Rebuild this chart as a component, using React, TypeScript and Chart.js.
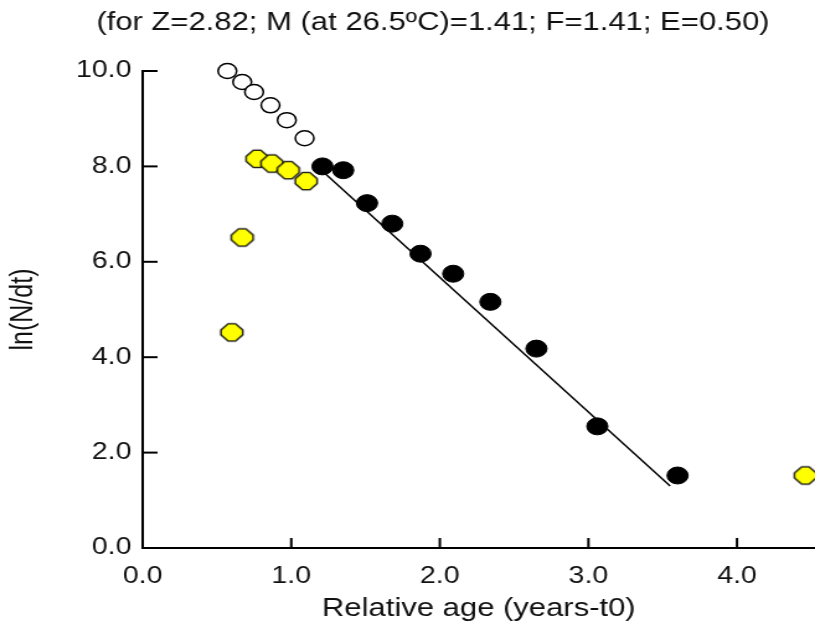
import React, { useEffect, useRef } from "react";
import { Chart, registerables } from "chart.js";

Chart.register(...registerables);

// ---- data ----
const titleText = "(for Z=2.82; M (at 26.5ºC)=1.41; F=1.41; E=0.50)";
const xTitle = "Relative age (years-t0)";
const yTitle = "ln(N/dt)";

const openAges = [0.57, 0.67, 0.75, 0.86, 0.97, 1.09];
const openLn = [10.0, 9.77, 9.56, 9.28, 8.97, 8.59];

const yellowAges = [0.6, 0.67, 0.77, 0.87, 0.98, 1.1, 4.46];
const yellowLn = [4.52, 6.51, 8.16, 8.06, 7.92, 7.69, 1.52];

const blackAges = [1.21, 1.35, 1.51, 1.68, 1.87, 2.09, 2.34, 2.65, 3.06, 3.6];
const blackLn = [8.0, 7.92, 7.23, 6.8, 6.17, 5.75, 5.16, 4.18, 2.55, 1.52];

const lineAges = [1.22, 3.55];
const lineLn = [7.87, 1.3];

const xMin = 0;
const xMax = 4.525;
const yMin = 0;
const yMax = 10;

// ---- layout (internal canvas is stretched horizontally by CSS) ----
const W = 657;
const H = 627;
const FONT = "'Liberation Sans', Arial, sans-serif";
const TEXT = "#111";

const toPts = (xs: number[], ys: number[]) => xs.map((x, i) => ({ x, y: ys[i] }));

function makeOctagon(): HTMLCanvasElement {
  const c = document.createElement("canvas");
  c.width = 22;
  c.height = 22;
  const g = c.getContext("2d")!;
  const cx = 11, cy = 11, hw = 8.8, hh = 8.6, a = 3, b = 2.5;
  g.beginPath();
  g.moveTo(cx - a, cy - hh);
  g.lineTo(cx + a, cy - hh);
  g.lineTo(cx + hw, cy - b);
  g.lineTo(cx + hw, cy + b);
  g.lineTo(cx + a, cy + hh);
  g.lineTo(cx - a, cy + hh);
  g.lineTo(cx - hw, cy + b);
  g.lineTo(cx - hw, cy - b);
  g.closePath();
  g.fillStyle = "#ffff00";
  g.fill();
  g.lineWidth = 1.3;
  g.strokeStyle = "#000";
  g.stroke();
  return c;
}

export default function App() {
  const ref = useRef<HTMLCanvasElement | null>(null);

  useEffect(() => {
    if (!ref.current) return;
    Chart.defaults.font.family = FONT;

    const innerTicks = {
      id: "innerTicks",
      beforeDatasetsDraw(chart: any) {
        const { ctx, chartArea } = chart;
        const xs = chart.scales.x;
        const ys = chart.scales.y;
        ctx.save();
        ctx.strokeStyle = "#000";
        ctx.lineWidth = 2;
        for (const t of xs.ticks) {
          const px = xs.getPixelForValue(t.value);
          if (px <= chartArea.left + 1) continue;
          ctx.beginPath();
          ctx.moveTo(px, chartArea.bottom);
          ctx.lineTo(px, chartArea.bottom - 10);
          ctx.stroke();
        }
        for (const t of ys.ticks) {
          const py = ys.getPixelForValue(t.value);
          if (py >= chartArea.bottom - 1) continue;
          ctx.beginPath();
          ctx.moveTo(chartArea.left, py);
          ctx.lineTo(chartArea.left + 12, py);
          ctx.stroke();
        }
        ctx.restore();
      },
    };

    const topTitle = {
      id: "topTitle",
      afterDraw(chart: any) {
        const { ctx } = chart;
        ctx.save();
        ctx.font = `25px ${FONT}`;
        ctx.fillStyle = TEXT;
        ctx.textAlign = "center";
        ctx.textBaseline = "middle";
        ctx.fillText(titleText, 349, 23);
        ctx.restore();
      },
    };

    const chart = new Chart(ref.current, {
      type: "scatter",
      data: {
        datasets: [
          {
            label: "open",
            data: toPts(openAges, openLn),
            pointStyle: "circle",
            pointRadius: 7.5,
            backgroundColor: "#ffffff",
            borderColor: "#000",
            borderWidth: 1.5,
            clip: false as any,
            order: 1,
          },
          {
            label: "yellow",
            data: toPts(yellowAges, yellowLn),
            pointStyle: makeOctagon() as any,
            pointRadius: 9,
            backgroundColor: "#ffff00",
            borderColor: "#000",
            clip: false as any,
            order: 1,
          },
          {
            label: "black",
            data: toPts(blackAges, blackLn),
            pointStyle: "circle",
            pointRadius: 8.5,
            backgroundColor: "#000",
            borderColor: "#000",
            borderWidth: 1,
            clip: false as any,
            order: 1,
          },
          {
            label: "fit",
            data: toPts(lineAges, lineLn),
            showLine: true,
            pointRadius: 0,
            borderColor: "#000",
            borderWidth: 1.5,
            backgroundColor: "#000",
            clip: false as any,
            order: 3,
          },
        ],
      },
      options: {
        responsive: false,
        maintainAspectRatio: false,
        devicePixelRatio: 1,
        animation: false,
        events: [],
        layout: { autoPadding: false, padding: { top: 71, left: 0, right: 0, bottom: 0 } },
        plugins: {
          legend: { display: false },
          tooltip: { enabled: false },
          title: { display: false },
        },
        scales: {
          x: {
            type: "linear",
            position: "bottom",
            min: xMin,
            max: xMax,
            border: { display: true, color: "#000", width: 2 },
            grid: { display: false, drawTicks: false },
            ticks: {
              stepSize: 1,
              includeBounds: false,
              padding: 15,
              color: TEXT,
              font: { size: 23, family: FONT },
              maxRotation: 0,
              callback: (v: any) => Number(v).toFixed(1),
            },
            title: {
              display: true,
              text: xTitle,
              color: TEXT,
              font: { size: 25, family: FONT },
              padding: { top: 0, bottom: 3 },
            },
            afterFit: (s: any) => {
              s.height = 79;
            },
          },
          y: {
            type: "linear",
            position: "left",
            min: yMin,
            max: yMax,
            border: { display: true, color: "#000", width: 2 },
            grid: { display: false, drawTicks: false },
            ticks: {
              stepSize: 2,
              includeBounds: false,
              padding: 9,
              color: TEXT,
              font: { size: 23, family: FONT },
              callback: (v: any) => Number(v).toFixed(1),
            },
            title: {
              display: true,
              text: yTitle,
              color: TEXT,
              font: { size: 25, family: FONT },
              padding: { top: 4, bottom: 0 },
            },
            afterFit: (s: any) => {
              s.width = 115;
            },
          },
        },
      },
      plugins: [innerTicks, topTitle],
    });

    return () => chart.destroy();
  }, []);

  return (
    <canvas
      ref={ref}
      width={W}
      height={H}
      style={{ position: "fixed", left: 0, top: 0, width: "815px", height: "627px" }}
    />
  );
}
